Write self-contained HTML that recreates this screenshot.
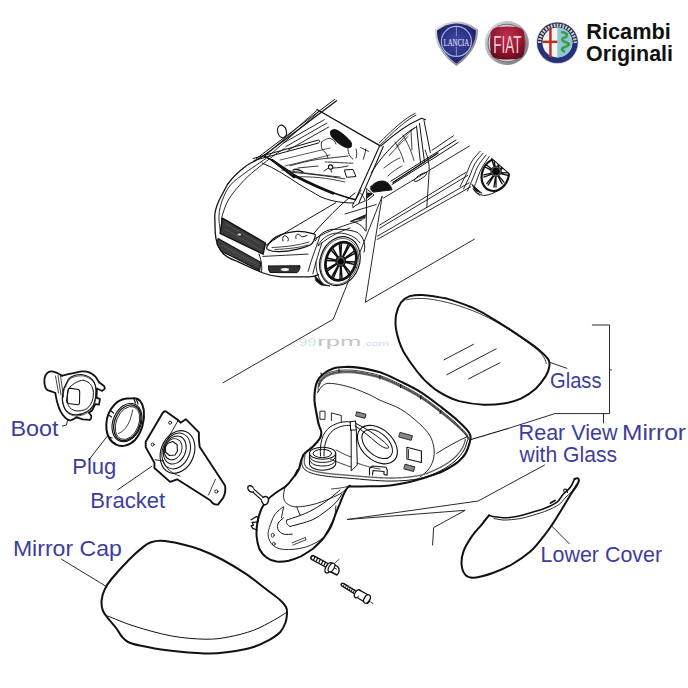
<!DOCTYPE html>
<html><head><meta charset="utf-8">
<style>
html,body{margin:0;padding:0;background:#fff;width:688px;height:688px;overflow:hidden}
svg{position:absolute;left:0;top:0}
.lbl{font-family:"Liberation Sans",sans-serif;fill:#3d3d9c;font-size:22.5px}
.k{fill:none;stroke:#111;stroke-linecap:round;stroke-linejoin:round}
</style></head><body>
<svg width="688" height="688" viewBox="0 0 688 688">
<!-- logos -->
<g id="logos">
  <defs>
    <radialGradient id="lblue" cx="50%" cy="45%" r="60%"><stop offset="0" stop-color="#4248a8"/><stop offset="0.7" stop-color="#262c7a"/><stop offset="1" stop-color="#161a55"/></radialGradient>
    <radialGradient id="fred" cx="50%" cy="30%" r="70%"><stop offset="0" stop-color="#c03050"/><stop offset="0.6" stop-color="#951830"/><stop offset="1" stop-color="#6a0c1e"/></radialGradient>
    <linearGradient id="silver" x1="0" y1="0" x2="1" y2="1"><stop offset="0" stop-color="#e6e6ea"/><stop offset="0.5" stop-color="#a8a8b0"/><stop offset="1" stop-color="#70707a"/></linearGradient>
  </defs>
  <path d="M434.8,29.5 Q456.4,13.5 478,29.5 L477.8,34 Q476,52 456.4,66 Q436.8,52 435,34 Z" fill="url(#silver)"/>
  <path d="M437,30.4 Q456.4,16.5 475.8,30.4 L475.6,34.5 Q474,50.5 456.4,63.4 Q438.8,50.5 437.2,34.5 Z" fill="url(#lblue)"/>
  <circle cx="456.4" cy="41.4" r="15" fill="none" stroke="#aeb4e0" stroke-width="1.1"/>
  <path d="M456.4,26.5 L456.4,36 M456.4,47 L456.4,56.5" stroke="#aeb4e0" stroke-width="0.7"/>
  <text x="0" y="0" font-family="Liberation Serif" font-size="11" fill="#e8e8f6" text-anchor="middle" transform="translate(456.4,46.2) scale(0.62,0.95)">LANCIA</text>
  <circle cx="506.8" cy="43" r="22" fill="url(#silver)"/>
  <circle cx="506.8" cy="43" r="19.3" fill="#6e6e76"/>
  <circle cx="506.8" cy="43" r="18.3" fill="#d0d0d6"/>
  <path d="M490.6,36 Q490,27.5 499,27 Q507.5,26 516,27 Q524.8,27.5 524.4,36 Q525.5,43 524.4,50 Q524.8,58.5 516,59 Q507.5,60 499,59 Q490,58.5 490.6,50 Q489.5,43 490.6,36 Z" fill="url(#fred)"/>
  <text x="0" y="0" font-family="Liberation Sans" font-size="24" fill="#f2cdd6" text-anchor="middle" transform="translate(507.4,52.6) scale(0.56,0.98)">FIAT</text>
  <circle cx="557.4" cy="42.8" r="21" fill="#bfc0c8"/>
  <circle cx="557.4" cy="42.8" r="20.3" fill="#27317a"/>
  <path d="M537.5,42.8 A19.9,19.9 0 0 1 577.3,42.8 Z" fill="#22263e"/>
  <path d="M539.6,43 A17.8,17.8 0 0 1 575.2,43" fill="none" stroke="#ececf0" stroke-width="3.4" stroke-dasharray="1.8 1.2" opacity="0.85"/>
  <circle cx="557.4" cy="42.5" r="15" fill="#f6f3ef"/>
  <path d="M557.3,27.5 A15,15 0 0 1 557.3,57.5 Z" fill="#8cc8d8"/>
  <rect x="549.2" y="27.8" width="2.5" height="29.4" fill="#b8302c"/>
  <rect x="542.5" y="40.6" width="14.8" height="2.5" fill="#b8302c"/>
  <path d="M561,32 q8,1 5,5 q-7,2 -1,5 q8,2 0,5 q-6,2 0,5" fill="none" stroke="#3d9c44" stroke-width="2.6"/>
</g>
<text x="586.3" y="38.8" font-family="Liberation Sans" font-weight="bold" font-size="22" fill="#111" textLength="84.5" lengthAdjust="spacingAndGlyphs">Ricambi</text>
<text x="586" y="60.8" font-family="Liberation Sans" font-weight="bold" font-size="22" fill="#111" textLength="87" lengthAdjust="spacingAndGlyphs">Originali</text>

<!-- labels -->
<text class="lbl" x="10.4" y="435.9" textLength="48.1" lengthAdjust="spacingAndGlyphs">Boot</text>
<text class="lbl" x="72.2" y="474.3" textLength="44.2" lengthAdjust="spacingAndGlyphs">Plug</text>
<text class="lbl" x="90.3" y="507.7" textLength="74.9" lengthAdjust="spacingAndGlyphs">Bracket</text>
<text class="lbl" x="12.9" y="555.9" textLength="109.0" lengthAdjust="spacingAndGlyphs">Mirror Cap</text>
<text class="lbl" x="540.6" y="561.7" textLength="121.5" lengthAdjust="spacingAndGlyphs">Lower Cover</text>
<text class="lbl" x="550.0" y="387.9" textLength="51.5" lengthAdjust="spacingAndGlyphs">Glass</text>
<text class="lbl" x="518.6" y="439.6" textLength="99" lengthAdjust="spacingAndGlyphs">Rear View</text><text class="lbl" x="622" y="439.6" textLength="64" lengthAdjust="spacingAndGlyphs">Mirror</text>
<text class="lbl" x="519.6" y="461.8" textLength="97.6" lengthAdjust="spacingAndGlyphs">with Glass</text>

<!-- watermark -->
<text x="298.8" y="345.8" font-family="Liberation Sans" font-size="11" fill="#cfe2ee" textLength="17.6" lengthAdjust="spacingAndGlyphs">99</text>
<text x="317.2" y="345.8" font-family="Liberation Sans" font-size="13" fill="#c4c4c4" textLength="44" lengthAdjust="spacingAndGlyphs">rpm</text>
<text x="362" y="345.8" font-family="Liberation Sans" font-size="8" fill="#c3dcee" textLength="27" lengthAdjust="spacingAndGlyphs">.com</text>

<g id="car" class="k" stroke-width="1">
  <!-- roof rail top-left -->
  <path d="M334.5,99.5 L256.5,158.5" stroke-width="1"/>
  <!-- windshield frame -->
  <path d="M317,109.5 L379.8,145.6" stroke-width="1.3"/>
  <path d="M317,110.3 L264.7,156 M319,111.5 L267,157.5" stroke-width="0.9"/>
  <path d="M379.8,145.6 L355.4,199.7 M383.3,146.5 L358.8,203.1" stroke-width="1.1"/>
  <!-- A pillar left / hood left edge outer, double -->
  <path d="M336.5,100.8 L266,154 C258,160 250,163 245.7,166.2 C238,172 232,178 227.4,184.5 C222,195 219,200 218.1,202.7 C215,210 214.5,214 214.8,218 L215.2,232 C215.5,240 217,246 222.4,252.8 C227,258 231,259 237.7,261.6 L261.7,272.5 C268,275 274,276.5 281.3,276.8 L309.6,276.8 C314,276.5 316,276 318.4,274.6" stroke-width="1.3"/>
  <path d="M266.0,158.5 C264.9,159.2 263.2,160.4 259.7,162.8 C256.2,165.2 249.8,169.3 245.0,173.0 C240.2,176.7 234.4,180.4 230.6,184.9 C226.8,189.4 224.3,195.0 222.4,200.0 C220.5,205.0 219.4,210.1 219.0,215.1 C218.6,220.1 219.9,227.5 220.1,230.0" stroke-width="0.9"/>
  <!-- cowl / wiper area -->
  <path d="M264,156 C270,159 285,168 296.6,176.4 C308,183 318,188 327.1,190.6 C335,193.5 343,196.5 355.4,199.7" stroke-width="1.4"/>
  <path d="M262,163 C275,168 288,177 299,184.2 C307,189 314,193 320,196.5 C328,200 338,203 354,203" stroke-width="1"/>
  <path d="M272,160 C280,166 287,172 294,177" stroke-width="2.4"/>
  <path d="M294,175.5 C307,182 320,188 333.2,193.3" stroke-width="2.6"/>
  <path d="M282,170 C300,172 318,175 340,177 M294,177 C310,176 328,178 345,182" stroke-width="0.8"/>
  <!-- streaks (reflection) -->
  <path d="M283.6,143 L324.3,119.7 M286,146.5 L327,123 M288,150.2 L328.7,127" stroke-width="0.9"/>
  <path d="M253.1,158.5 L318.5,140 C320,140.5 320,142 318.5,143 L254,160.5" stroke-width="1"/>
  <path d="M280,160 L330,148 M285,166 L330,155" stroke-width="0.7"/>
  <!-- side mirror oval (left) -->
  <ellipse cx="282" cy="131.4" rx="4.4" ry="6.4" transform="rotate(-15 282 131.4)" stroke-width="1.1"/>
  <!-- interior mirror blob -->
  <path d="M331,131 C334,128 338,130 344,135 C350,140 353,143 351,147 C348,149 343,147 337,142 C332,138 329,134 331,131Z" fill="#111"/>
  <!-- interior seats -->
  <path d="M321.4,142.2 C321,146 321.5,149 322.7,150.1 C324.5,152 326,153 326.6,154 L327.9,157.9 M321.4,142.2 C324,140 327,138.5 329.2,138.3 C333,139 335,141 336,144 M347.6,146.2 C348,150 348.3,152 348.9,154 C350,156.5 351.5,158 352.8,159.2 M360.6,147.5 L368.5,151.4 M365.9,148.8 C365.5,152 364.5,156 363.3,159.2 M356,149 C357,152 357,155 356,158 M290,165.8 C300,163 310,160.5 318.8,159.2 C330,158 340,157 348,156 M292.6,172.3 C310,174 328,176 344.9,178.9 M298,168 L318,166" stroke-width="0.85"/>
  <path d="M325.3,161.9 L352.8,163.2" stroke-width="1.2" stroke="#555" stroke-dasharray="2 1"/>
  <circle cx="330.6" cy="167.1" r="2.2" stroke-width="1.1"/>
  <path d="M330.8,169.3 L331.5,172 M324,171 L328.5,168 M333,168 C338,168 343,167 348,166" stroke-width="0.9"/>
  <path d="M344.7,170 L353,169.4 L355.9,176.5 L347,177.3Z" stroke-width="1"/>
  <path d="M293,170 C297,168 300,170 303,172" stroke-width="1.2"/>
  <!-- hood -->
  <path d="M335.8,202.7 C310,218 285,232 266,245.2" />
  <path d="M355,192.9 C340,205 325,220 314,233.2" />
  <path d="M285.0,148.5 C283.3,149.5 280.6,150.6 275.0,154.7 C269.4,158.8 257.4,168.3 251.5,173.3 C245.7,178.3 243.8,180.5 239.9,184.9 C236.0,189.3 231.2,195.0 228.3,200.0 C225.4,205.0 223.5,211.6 222.4,215.1 C221.3,218.6 221.7,220.0 221.5,221.0" stroke-width="0.9"/>
  
  <!-- grille -->
  <path d="M222.4,218.1 L265.5,243.1 L263.1,254.2 L220.1,233.3Z" fill="#3a3a3a" stroke-width="1.4"/><path d="M226,224 L262,245 M225,229 L261,250" stroke="#777" stroke-width="0.5" stroke-dasharray="1 1.2"/>
  <path d="M218,238.5 L260.8,262.3 L259.7,270.5 L221,251 L217,244Z" fill="#3e3e3e" stroke-width="1.1"/><path d="M222,245 L258,265" stroke="#777" stroke-width="0.5" stroke-dasharray="1 1.2"/>
  <ellipse cx="239.5" cy="234.5" rx="2.6" ry="1.6" fill="#ccc" stroke-width="0.7"/>
  <!-- headlight -->
  <path d="M267.4,245.9 C268.8,243.7 271.8,239.0 276.7,236.6 C281.6,234.2 290.5,231.9 296.5,231.4 C302.5,230.9 309.7,232.8 312.8,233.7 C315.9,234.6 315.5,234.8 315.1,236.6 C314.7,238.4 313.6,242.7 310.5,244.8 C307.4,246.9 301.7,248.2 296.5,249.4 C291.3,250.6 283.8,251.6 279.1,251.7 C274.5,251.8 270.6,251.0 268.6,250.0 C266.7,249.0 266.0,248.1 267.4,245.9Z" stroke-width="1.2"/>
  <path d="M272,247.5 C285,247 298,245.5 309,242 M275,249.5 C288,249 300,247.5 308,245" stroke-width="0.8"/>
  <path d="M283,241 c-1,-4 1,-6 3,-5 c2,1 3,3 2,5 M296,238.5 c-1,-3 1,-5 3,-4 c2,1 2,3 5,2 l3,-1" stroke-width="1"/>
  <!-- bumper lines -->
  <path d="M259,254 C262,262 262,268 261.5,272" />
  <path d="M319.8,236.6 C316,248 311,260 308.1,271.5 M322,242.4 C319,252 315.5,263 312.8,273.8" stroke-width="0.9"/>
  <path d="M318,246 C325,240 335,233 350,228 M314,239 C330,230 345,225 362,220" stroke-width="0.9"/>
  <!-- foglight -->
  <path d="M268.6,266 L300,265.7 C300.5,268 299,271 297,272.7 L270,272.5 C268.5,270.5 268,268 268.6,266Z" fill="#333" stroke-width="1"/>
  <ellipse cx="285" cy="269.5" rx="4.5" ry="1.8" fill="#fff" stroke-width="0.5"/>
  <path d="M262.8,256.4 C278,255.5 293,255 308.1,254.1" stroke-width="0.9"/>
  <!-- front wheel arch -->
  <path d="M315.1,240.9 C320,233 328,229 334.9,229.3 C345,229 355,231 358.1,232.8 C364,238 366,245 364,252" stroke-width="1"/>
  <path d="M318,245 C323,237 330,233 338,233 C348,233 356,237 360,243" stroke-width="0.9"/>
  <path d="M316,262 C316,270 317,276 322,283" stroke-width="0.9"/>
  <!-- front wheel -->
  <ellipse cx="339.9" cy="261.2" rx="19.6" ry="25" transform="rotate(20 339.9 261.2)" stroke-width="1.2"/>
  <ellipse cx="339.6" cy="261.5" rx="18.2" ry="23.6" transform="rotate(20 339.6 261.5)" stroke-width="0.6"/>
  <ellipse cx="340.9" cy="261.2" rx="14.8" ry="19.6" transform="rotate(20 340.9 261.2)" stroke-width="2.8"/>
  <path d="M345.0,262.2 L354.4,264.4 M343.7,264.8 L350.3,272.5 M343.3,265.3 L348.8,274.3 M341.1,266.7 L342.0,278.7 M340.5,266.9 L340.0,279.2 M338.3,266.6 L333.2,278.2 M337.8,266.2 L331.6,277.2 M336.4,264.4 L327.2,271.2 M336.2,263.7 L326.6,269.1 M336.2,260.9 L326.4,260.4 M336.4,260.2 L327.0,258.0 M337.7,257.6 L331.1,249.9 M338.1,257.1 L332.6,248.1 M340.3,255.7 L339.4,243.7 M340.9,255.5 L341.4,243.2 M343.1,255.8 L348.2,244.2 M343.6,256.2 L349.8,245.2 M345.0,258.0 L354.2,251.2 M345.2,258.7 L354.8,253.3 M345.2,261.5 L355.0,262.0" stroke-width="1.5"/>
  <ellipse cx="340.7" cy="261.2" rx="4.8" ry="5.2" fill="#555" stroke-width="1.2"/>
  <circle cx="340.7" cy="261.5" r="2.8" fill="#000"/>
  <path d="M315,276 L324,284.4 L330,286 L321,285 L316,281Z" fill="#111" stroke-width="0.8"/>
  <!-- car side mirror -->
  <path d="M371.2,186.3 C375,182 380,180.5 384,181.2 C388,182 391,186 392.1,189.8 L373.5,192.1 C371,191 370,189 371.2,186.3Z" fill="#111"/>
  <path d="M366.8,188.5 L366.1,231 M368,190 L374,195 L368,200" />
  <path d="M368,193 L372,194 L367,198Z" fill="#111"/>
  <path d="M350.8,221.3 L366.1,214.7 M350.8,221.3 C357,222 362.5,225.5 365.3,230.7" stroke-width="1"/><path d="M353.5,220.3 L365.5,215.6 L364.8,218.2Z" fill="#222" stroke-width="0.6"/>
  <path d="M353,207.4 C357,204 362,202 365.3,200.9 C364,197 362,195 360.5,193 M353,207.4 C352,205 353,203 355,201 L361,190" stroke-width="0.9"/><path d="M345,214 L376.2,204.5" stroke-width="0.9"/>
  <!-- roof side arc / door frame -->
  <path d="M379.2,143 C392,130 405,118 415.2,113.4 M380.5,144.8 C393,132 406,120 416,115.2" stroke-width="0.9"/>
  <path d="M380.8,146.2 C393,135 408,124 421.6,118.2 L425.5,119.8" stroke-width="1.1"/>
  <path d="M416.5,126 L420.5,163 M419.5,123.5 L424.5,162 M424,120.6 L430.3,152.6" stroke-width="1"/>
  <path d="M371.3,172.8 C378,162 384,155 389.6,149.2 C397,141 406,133 414.5,127.7" stroke-width="1"/>
  <!-- belt line -->
  <path d="M390.8,181.2 L440.3,150 L456,140 M392,184.5 L441,153.5 L458,142.5" stroke-width="1"/>
  <path d="M393,182.5 L438,153" stroke-width="1.4" stroke-dasharray="1.2 1"/>
  <!-- door window hatch -->
  <path d="M396.8,146.2 C402,139 408,133 416,127 M389,155.8 C395,149 401,143 408,136.6 M403,135 C407,142 411,150 414,160.5 M395,142 C399,148 402,155 404,162 M411,130 L412,150 M384,168 C390,163 395,160 400,158 M388,176 C392,172 396,169 402,166" stroke-width="0.8"/>
  <!-- door handle front -->
  <path d="M414,180.4 C417,176 422,173 426.8,172.4 C427,175 423,178.5 416,181.5Z" stroke-width="1"/>
  <!-- body side lines front door -->
  <path d="M379.6,225.1 L465.9,172.4 M379.6,228.3 L467.5,175.6 M377.2,236.3 L469.1,182.8 M377.2,239.5 L470.7,186.8" stroke-width="0.9"/>
  <path d="M383.6,198 L469.4,146" stroke-width="0.9"/>
  <!-- rear door -->
  <path d="M425.2,150 C428,158 429.5,165 429.2,170.8 L426.8,207.6" stroke-width="0.9"/>
  <path d="M432,150.2 L453.5,135.8" stroke-width="0.9"/>
  <!-- rear wheel arch -->
  <path d="M480.2,151.3 C478.8,152.9 474.3,157.3 472.0,161.0 C469.7,164.7 468.5,169.3 466.5,173.6 C464.5,177.9 461.1,184.5 460.0,186.7" stroke-width="0.9"/>
  <path d="M483.0,153.3 C481.7,155.0 477.2,159.8 475.0,163.5 C472.8,167.2 471.7,171.6 469.8,175.8 C467.9,180.1 464.6,186.8 463.5,189.0" stroke-width="0.9"/>
  <path d="M486.0,155.0 C484.7,156.8 480.2,162.2 478.0,166.0 C475.8,169.8 474.8,173.8 473.0,178.0 C471.2,182.2 468.4,188.8 467.5,191.0" stroke-width="0.9"/>
  <path d="M489.2,156.6 C487.9,158.6 483.6,164.4 481.5,168.5 C479.4,172.6 477.8,177.4 476.5,181.0 C475.2,184.6 473.4,187.6 474.0,190.0 C474.6,192.4 479.0,194.6 480.0,195.5" stroke-width="0.9"/>
  <!-- rear wheel -->
  <defs><clipPath id="rwclip"><path d="M460,148.3 L480,148.3 L520,183.1 L520,205 L460,205Z"/></clipPath></defs>
  <g clip-path="url(#rwclip)">
    <ellipse cx="495.3" cy="174.8" rx="13.3" ry="16.5" transform="rotate(20 495.3 174.8)" stroke-width="2.2"/>
    <path d="M499.7,173.4 L507.6,175.3 M498.5,175.6 L503.9,182.2 M498.0,176.1 L502.2,183.9 M496.0,177.1 L496.0,187.0 M495.4,177.1 L494.0,187.2 M493.5,176.5 L488.1,185.1 M493.0,176.0 L486.7,183.6 M492.2,174.0 L483.9,177.2 M492.1,173.2 L483.7,174.8 M492.6,170.8 L485.3,167.2 M493.0,170.1 L486.5,165.0 M494.7,168.4 L491.8,159.6 M495.3,168.1 L493.8,158.6 M497.3,168.0 L500.2,158.1 M497.9,168.2 L502.1,158.8 M499.4,169.6 L506.6,163.3 M499.6,170.2 L507.5,165.4 M499.8,172.6 L508.1,172.8" stroke-width="1.3"/>
    <path d="M473.1,188.9 C477,193.5 481,195.6 485.1,195.4 C494,194.5 503,188 508.5,179" stroke-width="1"/>
  </g>
  <path d="M491.6,158.4 L509.1,173.6" stroke-width="1.1"/>
  <path d="M472,184.5 L481.8,193.2 L476,191Z" fill="#111" stroke-width="0.8"/>
  <circle cx="496" cy="171.4" r="5.2" fill="#666" stroke-width="0.9" stroke-dasharray="1 0.8"/>
  <circle cx="496" cy="171.4" r="3.4" fill="#000"/>
</g>

<g id="housing" class="k" stroke-width="1">
  <!-- outer -->
  <path d="M295.0,475.6 C295.7,474.5 298.1,471.2 299.1,468.7 C300.1,466.2 300.3,462.9 301.2,460.4 C302.1,457.9 302.7,455.8 304.7,453.5 C306.7,451.2 310.5,449.1 313.0,446.6 C315.5,444.1 318.5,440.7 319.9,438.3 C321.3,435.9 321.5,434.4 321.3,432.0 C321.1,429.6 319.4,427.3 318.6,424.0 C317.8,420.7 317.0,416.2 316.3,412.3 C315.6,408.4 314.7,404.6 314.5,400.7 C314.3,396.8 314.6,392.4 315.1,389.1 C315.6,385.8 316.0,383.4 317.4,380.9 C318.8,378.4 320.8,376.0 323.3,374.0 C325.8,372.0 329.1,369.9 332.6,368.7 C336.1,367.5 339.9,367.2 344.2,367.0 C348.4,366.8 352.1,366.7 358.1,367.6 C364.1,368.5 372.9,370.0 380.0,372.3 C387.1,374.6 393.8,378.2 400.7,381.6 C407.6,385.0 414.5,388.2 421.4,392.6 C428.3,397.0 436.1,403.2 442.1,407.8 C448.1,412.4 453.2,416.5 457.3,420.2 C461.4,423.9 464.8,427.4 467.0,429.9 C469.2,432.4 469.9,433.3 470.4,435.4 C470.9,437.5 470.6,439.3 469.8,442.3 C469.0,445.3 467.5,450.2 465.6,453.4 C463.7,456.6 461.6,458.9 458.5,461.5 C455.4,464.1 450.7,466.9 447.0,469.0 C443.3,471.1 441.8,471.9 436.4,473.8 C430.9,475.8 422.0,478.8 414.3,480.7 C406.6,482.6 397.4,484.6 390.0,485.5 C382.6,486.4 376.8,486.1 370.0,486.3 C363.2,486.5 352.5,486.5 349.0,486.5" stroke-width="2.1"/>
  <path d="M318.2,392.0 C318.2,390.7 318.0,386.2 318.5,384.0 C319.0,381.8 319.6,380.2 321.0,378.5 C322.4,376.8 324.7,374.8 327.0,373.5 C329.3,372.2 332.0,371.6 335.0,371.0 C338.0,370.4 341.2,370.0 345.0,370.0 C348.8,370.0 352.2,369.9 358.0,370.8 C363.8,371.7 372.9,373.3 380.0,375.6 C387.1,377.9 393.7,381.1 400.5,384.5 C407.3,387.9 414.2,391.5 421.0,395.8 C427.8,400.1 435.2,406.0 441.0,410.5 C446.8,415.0 451.9,419.3 456.0,423.0 C460.1,426.7 463.5,430.2 465.5,432.5 C467.5,434.8 467.6,436.2 468.0,437.0" stroke-width="0.8"/>
  <path d="M318.8,385.6 C319.2,384.7 319.9,381.9 321.3,380.1 C322.7,378.4 325.0,376.4 327.3,375.1 C329.6,373.9 332.3,373.2 335.3,372.6 C338.3,372.0 341.5,371.6 345.3,371.6 C349.1,371.6 352.5,371.5 358.3,372.4 C364.1,373.3 373.2,374.9 380.3,377.2 C387.4,379.5 394.0,382.7 400.8,386.1 C407.6,389.5 414.6,393.1 421.3,397.4 C428.1,401.7 435.5,407.6 441.3,412.1 C447.1,416.6 452.2,420.9 456.3,424.6 C460.4,428.3 463.8,431.8 465.8,434.1 C467.8,436.4 467.9,437.9 468.3,438.6" stroke-width="1.8" stroke="#555" stroke-dasharray="0.7 0.7"/>
  <path d="M318.9,386.8 C319.3,385.9 320.0,383.1 321.4,381.3 C322.8,379.6 325.1,377.6 327.4,376.3 C329.7,375.1 332.4,374.4 335.4,373.8 C338.4,373.2 341.6,372.8 345.4,372.8 C349.2,372.8 352.6,372.7 358.4,373.6 C364.2,374.5 373.3,376.1 380.4,378.4 C387.5,380.7 394.1,383.9 400.9,387.3 C407.7,390.7 414.6,394.3 421.4,398.6 C428.1,402.9 435.6,408.8 441.4,413.3 C447.2,417.8 452.3,422.1 456.4,425.8 C460.5,429.5 463.9,433.0 465.9,435.3 C467.9,437.6 468.0,439.1 468.4,439.8" stroke-width="0.6"/>
  <path d="M321,373 L321.5,375.5 M339,369.2 L339.2,372 M380,375.6 L380,378.8 M400.7,384.5 L400.5,387.5 M421,395.8 L420.5,399 M441,410.5 L440,413.5" stroke-width="1.2"/>
  <path d="M317.5,392.5 C318.6,391.1 321.5,385.8 324.4,384.4 C327.3,382.9 330.2,383.2 334.9,383.8 C339.5,384.4 346.5,386.0 352.3,387.9 C358.1,389.8 365.2,392.8 369.8,394.9 C374.4,396.9 374.9,397.8 380.0,400.2 C385.1,402.6 394.2,405.4 400.7,409.2 C407.1,413.0 413.9,418.6 418.7,423.0 C423.5,427.4 427.2,431.3 429.7,435.4 C432.2,439.5 433.3,443.7 433.9,447.8 C434.5,451.9 434.2,456.3 433.2,460.0 C432.2,463.7 430.2,467.2 428.0,470.0 C425.8,472.8 421.3,475.8 420.0,477.0" stroke-width="0.9"/>
  <path d="M302.6,454.9 C302.5,456.5 301.1,461.8 301.9,464.5 C302.7,467.2 303.9,469.5 307.4,471.4 C310.8,473.2 315.5,474.5 322.6,475.6 C329.7,476.8 339.0,477.4 350.2,478.3 C361.4,479.2 378.4,481.1 390.0,481.1 C401.6,481.1 411.7,480.2 420.0,478.5 C428.3,476.8 434.2,473.9 440.0,471.0 C445.8,468.1 451.0,464.5 455.0,461.0 C459.0,457.5 461.9,453.5 464.0,450.0 C466.1,446.5 466.9,441.7 467.5,440.0" stroke-width="1"/>
  <path d="M305.0,455.0 C304.9,456.4 303.8,461.2 304.5,463.5 C305.2,465.8 305.9,467.4 309.0,469.0 C312.1,470.6 316.1,471.7 323.0,472.8 C329.9,473.9 339.3,474.6 350.5,475.5 C361.7,476.4 378.6,478.0 390.0,478.0 C401.4,478.0 411.0,477.1 419.0,475.5 C427.0,473.9 432.3,471.2 438.0,468.5 C443.7,465.8 449.0,462.3 453.0,459.0 C457.0,455.7 459.9,451.8 462.0,448.5 C464.1,445.2 464.9,440.6 465.5,439.0" stroke-width="1.4" stroke="#666" stroke-dasharray="0.8 0.7"/>
  <path d="M436.6,453.4 C447,447 457,441 467,436.8" stroke-width="0.9"/>
  <!-- rects -->
  <rect x="320.3" y="411.2" width="4.7" height="8.1" stroke-width="0.9"/>
  <path d="M331.4,420.5 L331.4,412.9 L341.3,415.5 L341.3,422" stroke-width="0.9"/>
  <rect x="356.4" y="413" width="9.3" height="4.2" fill="#888" stroke-width="0.8" transform="rotate(15 361 415)"/>
  <rect x="399.5" y="434" width="12.5" height="4.8" fill="#888" stroke-width="0.8" transform="rotate(15 405.7 436.4)"/>
  <path d="M406.9,447.2 L421.4,451 L421.4,462.5 L406.9,459Z" stroke-width="1.1"/>
  <path d="M408.5,449.5 L408.5,458" stroke-width="0.8"/>
  <rect x="404.6" y="465.5" width="9.7" height="4.8" fill="#888" stroke-width="0.8" transform="rotate(15 409.5 468)"/>
  <!-- grommet coil -->
  <path d="M309.5,453.3 L309.5,464 C310,468 316,470.2 322.6,470.2 C329,470.2 335,468 335.7,464 L335.7,453.3" fill="#fff" stroke-width="1.1"/>
  <path d="M309.6,456.5 C310.5,460.5 316,462.4 322.6,462.4 C329.5,462.4 334.8,460.5 335.6,456.5 M309.6,460 C310.5,464 316,466 322.6,466 C329.5,466 334.8,464 335.6,460" stroke-width="1"/>
  <ellipse cx="322.6" cy="453.3" rx="13.1" ry="6" fill="#fff" stroke-width="1.1"/>
  <ellipse cx="322.4" cy="453.5" rx="9.3" ry="4.15" stroke-width="1"/>
  <!-- cable -->
  <path d="M320.5,456 C319.5,444 322,433 330,427 C337,422.5 344,421 350.5,422 M324,456 C323.8,445 326.5,435.5 333.5,430 C340,426 345,425 350.5,425.5" stroke-width="1"/>
  <path d="M350.2,421.7 L355.5,421 L356.3,429.8 L350.6,430.2Z" stroke-width="1.1"/>
  <!-- loop -->
  <ellipse cx="377.4" cy="444.6" rx="23" ry="15.5" transform="rotate(42 377.4 444.6)" stroke-width="1.1"/>
  <ellipse cx="377.2" cy="444" rx="18" ry="11" transform="rotate(42 377.2 444)" stroke-width="1"/>
  <path d="M356,423.5 C365,428 375,434 383,441 C387,444 389,447 388.5,448 C386,449 382,447 377,443 C370,437 362,430 355,426" stroke-width="1"/>
  <!-- post -->
  <path d="M351.2,430 L351.2,471 L357.3,464.9 L356.3,429.8" stroke-width="1"/>
  <path d="M336,450 C340,452 345,455 351,457 M330,459 C337,462 345,465 351,467" stroke-width="0.8"/>
  <path d="M357,463 C362,465 372,468 380,469" stroke-width="0.8"/>
  <!-- clip bottom -->
  <path d="M369.5,475 L369.5,468.5 L372.5,466 L386,467.3 L387.3,470 L387,475.1 L384,474.5 L384,471.5 L373,470.5 L372.5,475" stroke-width="1.1"/>
  <line x1="471" y1="439.5" x2="508" y2="428.5" stroke-width="1.1"/>
</g>
<g id="base" class="k" stroke-width="1">
  <path d="M297.6,470 C296,474 294,477 292.3,478.7 C290,482 288,484.5 285.4,486.6 C282,489 278,491 274.9,493.5 C271,496 268.5,498.5 266.2,501.4 C264,504.5 262,507 260.9,510.1 C259,515 258,518 257.4,522.3 C256.5,528 256.3,532 256.6,536.3 C257,541 258,545 259.2,548.5 C261,552 263,555 266.2,557.2 C269,559.5 273,561 276.6,561.6 C281,562 285,561.5 288.8,560.7 C293,559.5 297,558 301,556.3 C305,554 309,551.5 313.3,548.5 C317,545 320.5,541.5 323.7,538 C327,533 330,528 332.4,522.3 C335,516 337,510 339.4,504.9 C341.5,499 344,493 346.4,489.2 C347.5,487.5 348.5,486.5 349.9,485.7" stroke-width="2"/>
  <path d="M284.7,488.3 C284.5,489.8 283.2,494.6 283.6,497.1 C284.0,499.7 284.7,502.0 286.9,503.6 C289.1,505.2 291.8,506.9 296.7,506.9 C301.6,506.9 309.4,505.6 316.3,503.6 C323.2,501.6 333.0,497.4 338.1,494.9 C343.2,492.3 345.4,489.4 346.8,488.3" stroke-width="0.9"/>
  <path d="M331.6,489.0 C333.0,488.8 337.3,488.4 340.0,488.0 C342.7,487.6 346.7,486.8 348.0,486.5" stroke-width="0.8"/>
  <path d="M286.9,520.0 C290.0,518.9 299.9,515.8 305.4,513.4 C310.9,511.0 315.6,508.2 320.0,505.5 C324.4,502.8 328.3,499.7 331.6,497.1 C334.9,494.5 338.6,491.2 340.0,490.0" stroke-width="1"/>
  <path d="M290.1,526.5 C293.7,525.4 305.9,522.6 311.9,520.0 C317.9,517.4 322.0,513.9 326.0,511.0 C330.0,508.1 333.2,505.3 335.9,502.5 C338.6,499.7 341.0,495.4 342.0,494.0" stroke-width="1"/>
  <path d="M286.9,520 C285.5,522 287,525.5 290.1,526.5" stroke-width="1"/>
  <path d="M283.6,517.8 C282.7,518.7 279.1,521.2 278.2,523.2 C277.3,525.2 277.3,528.0 278.2,529.8 C279.1,531.6 281.2,533.4 283.6,534.1 C286.0,534.8 290.9,534.1 292.3,534.1" stroke-width="1"/>
  <path d="M335.9,505.8 C335.5,508.3 335.5,515.9 333.7,521.0 C331.9,526.1 329.7,531.9 325.0,536.3 C320.3,540.7 312.3,545.0 305.4,547.2 C298.5,549.4 289.1,549.8 283.6,549.4 C278.2,549.0 275.2,547.2 272.7,545.0 C270.1,542.8 268.9,539.2 268.3,536.3 C267.8,533.4 268.3,531.2 269.4,527.6 C270.5,524.0 272.6,517.9 274.9,514.5 C277.2,511.1 281.6,508.2 283.0,507.0" stroke-width="0.9"/>
  <path d="M283.6,506.9 L281.4,517.8 M296.7,506.9 L300,515" stroke-width="0.9"/>
  <ellipse cx="272.7" cy="535.2" rx="1.5" ry="2" stroke-width="0.8"/>
  <ellipse cx="273.8" cy="543.9" rx="1.3" ry="1.6" stroke-width="0.8"/>
  <path d="M292.3,542.8 L305.4,537.4 L306,539.8 L293,545" stroke-width="0.8"/>
  <!-- connector pin -->
  <path d="M251.5,489 L264.5,500.5" stroke-width="4.2"/>
  <path d="M252,489.4 L264.5,500.5" stroke-width="1.8" stroke="#fff"/>
  <path d="M253,487.2 C250,484.5 247,486 248,489 C249,491.5 251,492.5 253.5,492" stroke-width="1.3" fill="#fff"/>
  <path d="M263,497.5 C266,495.5 269,497 268.5,500.5 C268,503.5 266,505.5 263.5,504.5 L261.5,501" stroke-width="1.5" fill="#fff"/>
  <path d="M251.1,519.7 L256.5,516.5 L258.5,518 L258,522 L252,522.3 L253.5,525 L251.1,525.8 L252.8,528.4 L257,530" stroke-width="1.3"/>
</g>
<g id="screws" class="k" stroke-width="1">
  <path d="M313,557.8 L327.5,565.6" stroke-width="5.6" stroke="#111"/>
  <path d="M313.3,558 L327.5,565.6" stroke-width="3" stroke="#fff"/>
  <path d="M315,556.5 L313.8,559.6 M317.6,558 L316.4,561 M320.2,559.4 L319,562.4 M322.8,560.8 L321.6,563.8 M325.4,562.2 L324.2,565.2" stroke-width="1.2"/>
  <ellipse cx="328.8" cy="567.8" rx="3" ry="5.6" transform="rotate(30 328.8 567.8)" stroke-width="1.4" fill="#fff"/>
  <path d="M331.5,563 L337.5,566.5 C340,568.5 339.5,573 337,575 L331,572" stroke-width="1.4" fill="#fff"/>
  <ellipse cx="331.5" cy="567.5" rx="2.6" ry="4.8" transform="rotate(30 331.5 567.5)" stroke-width="1.2" fill="#fff"/>
  <path d="M334.5,568 L336.5,569" stroke-width="0.9"/>
  <path d="M335.5,562.5 L339,559.5" stroke-width="0.8"/>
  <path d="M342.5,584.6 L355.5,592.6" stroke-width="4.2" stroke="#111"/>
  <path d="M342.8,584.8 L355.5,592.6" stroke-width="1.8" stroke="#fff"/>
  <path d="M344.5,583.6 L343.5,586.2 M346.5,584.8 L345.5,587.4 M348.5,586 L347.5,588.6 M350.5,587.2 L349.5,589.8 M352.5,588.4 L351.5,591 M354.5,589.6 L353.5,592.2" stroke-width="1"/>
  <ellipse cx="357.5" cy="593.8" rx="2.6" ry="4.4" transform="rotate(30 357.5 593.8)" stroke-width="1.3" fill="#fff"/>
  <path d="M359,589.8 L367.5,594.5 C370.5,596.5 370.5,601.5 367.5,603.5 L358.5,598.5" stroke-width="1.4" fill="#fff"/>
  <ellipse cx="367" cy="599" rx="2.8" ry="4.6" transform="rotate(30 367 599)" stroke-width="1.3" fill="#fff"/>
  <path d="M370.6,601.9 L373,603.4" stroke-width="0.8"/>
</g>
<g id="boot" class="k" stroke-width="1">
  <path d="M61.9,375.7 C61.0,375.2 58.1,373.3 56.3,372.6 C54.5,371.9 52.7,371.2 51.2,371.3 C49.7,371.4 48.2,372.0 47.1,373.1 C46.0,374.2 45.0,376.3 44.6,378.2 C44.2,380.1 44.3,382.4 44.6,384.3 C44.9,386.2 45.5,388.2 46.6,389.4 C47.7,390.6 49.8,390.8 51.2,391.4 C52.7,392.0 54.6,392.7 55.3,393.0" stroke-width="1.8"/>
  <path d="M61.9,375.7 C62.6,375.5 64.5,375.1 66.4,374.7 C68.4,374.3 70.9,373.7 73.6,373.1 C76.3,372.5 80.0,371.4 82.7,371.3 C85.4,371.2 87.7,371.7 89.8,372.6 C91.9,373.5 93.9,375.1 95.4,376.7 C96.9,378.3 98.4,381.4 99.0,382.3" stroke-width="1.8"/>
  <path d="M76.6,417.4 C75.6,417.9 72.4,420.3 70.5,420.4 C68.6,420.5 67.1,419.5 65.4,417.9 C63.7,416.3 61.6,413.4 60.3,410.8 C58.9,408.2 58.1,405.6 57.3,402.6 C56.5,399.6 55.6,394.6 55.3,393.0" stroke-width="1.8"/>
  <path d="M99,382.3 L103.1,385.3 C104.8,386.5 105.2,388.5 104.6,388.9 L102.1,390.9 L97,388.4 L96.5,397.6 L100,399.1 L99,404.7 L95.4,404.2 L91.9,410.8 L88.8,412.8 L91.4,415.9 C91.5,418 90.5,419.5 89.8,419.9 L82.7,419.4 L76.6,417.4" stroke-width="1.7"/>
  <path d="M65.4,385.3 C66.6,383.1 67.6,379.0 70.5,377.2 C73.4,375.4 79.0,374.2 82.7,374.7 C86.4,375.2 90.7,377.7 92.9,380.3 C95.1,382.9 95.8,386.5 96.0,390.4 C96.2,394.3 95.4,400.1 93.9,403.7 C92.4,407.3 89.8,409.9 86.8,411.8 C83.8,413.7 79.0,415.0 75.6,414.8 C72.2,414.6 68.6,413.2 66.4,410.8 C64.2,408.4 62.9,404.0 62.4,400.6 C61.9,397.2 62.9,392.9 63.4,390.4 C63.9,387.8 64.2,387.5 65.4,385.3Z" stroke-width="1.1"/>
  <path d="M65.7,386.5 C66.9,384.3 67.9,380.2 70.8,378.4 C73.7,376.6 79.3,375.4 83.0,375.9 C86.7,376.4 91.0,378.9 93.2,381.5 C95.4,384.1 96.1,387.7 96.3,391.6 C96.5,395.5 95.7,401.3 94.2,404.9 C92.7,408.5 90.1,411.1 87.1,413.0 C84.0,414.9 79.3,416.2 75.9,416.0 C72.5,415.8 68.9,414.4 66.7,412.0 C64.5,409.6 63.2,405.2 62.7,401.8 C62.2,398.4 63.2,394.1 63.7,391.6 C64.2,389.0 64.5,388.7 65.7,386.5Z" stroke-width="0.7"/>
  <path d="M70.5,386.4 C73.0,383.9 79.1,380.3 82.7,380.3 C86.3,380.3 90.2,383.3 91.9,386.4 C93.6,389.4 93.8,394.9 92.9,398.6 C92.1,402.3 89.7,406.7 86.8,408.7 C83.9,410.7 78.6,411.3 75.6,410.8 C72.5,410.3 69.8,408.2 68.5,405.7 C67.2,403.1 67.2,398.7 67.5,395.5 C67.8,392.3 68.0,388.9 70.5,386.4Z" stroke-width="1"/>
  <path d="M68,390 C68,388.5 69.5,388.2 71,388.4 L78.5,389.5 C79.5,390 79.8,391 79.7,392 L79.5,403 C79.3,404.5 78.5,404.8 77.5,404.7 L68.5,403.5 C67,403 66.5,402 66.5,401Z" stroke-width="1.1"/>
  <path d="M55.5,376 L58.5,393 M58,375.5 L61,395 M60.5,375.5 L63.5,397" stroke-width="0.8"/>
  <path d="M67.5,420.5 L66.4,425 L62.4,426" stroke-width="0.9"/>
</g>
<g id="plug" class="k" stroke-width="1">
  <path d="M133,398.3 C139,397.5 142.5,402 143.8,410 C145,420 142,432 135,440 C129,446 121,447.5 116,444.5 C111,442 107.5,437 106.5,430 C105.8,423 107,415 111,409 C115,403 120.5,399 126.5,398.5 Z" stroke-width="2"/>
  <ellipse cx="127" cy="422.5" rx="14" ry="20" transform="rotate(22 127 422.5)" stroke-width="1.1"/>
  <ellipse cx="127.3" cy="422.8" rx="12.6" ry="18.6" transform="rotate(22 127.3 422.8)" stroke-width="1.3"/>
  <ellipse cx="127.5" cy="423" rx="11.2" ry="17.2" transform="rotate(22 127.5 423)" stroke-width="0.8"/>
  <path d="M132.6,410 C131,420 127,430 118.5,433.5" stroke-width="0.8"/>
  <path d="M110.5,410.5 L113.5,413 M108.5,415 L111.5,417 M134,399 L135.5,403 M136.5,399.5 L138,404 M108.5,437 L112,438" stroke-width="1.2"/>
</g>
<g id="bracket" class="k" stroke-width="1">
  <path d="M165.7,411.3 L177.9,420 L180.6,422.7 L185.8,419.2 L198.9,432.3 L198.9,440.1 L199.7,447.1 L225,485.4 C226,490 225,494 223.3,497.6 L218,504.6 C215,505 212,503 210.2,500.2 L177.1,479.3 L170.1,481.9 L154.4,468 L154.4,462.8 L145.7,447.1 L145.7,441.8 L163.1,412.2 C164,411.5 165,411 165.7,411.3Z" stroke-width="1.9"/>
  <circle cx="170.1" cy="422.7" r="1.5" stroke-width="0.9"/>
  <circle cx="152.7" cy="444.5" r="1.5" stroke-width="0.9"/>
  <circle cx="216.3" cy="491.5" r="1.6" stroke-width="0.9"/>
  <ellipse cx="177.5" cy="452" rx="16.5" ry="22" transform="rotate(22 177.5 452)" stroke-width="1.1"/>
  <ellipse cx="176.2" cy="451" rx="13.5" ry="18.5" transform="rotate(22 176.2 451)" stroke-width="1"/>
  <ellipse cx="174.8" cy="450" rx="10.8" ry="14.5" transform="rotate(22 174.8 450)" stroke-width="1"/>
  <ellipse cx="173.2" cy="449.2" rx="8.6" ry="10.8" transform="rotate(22 173.2 449.2)" stroke-width="0.9"/>
  <path d="M167.5,443.5 L172.5,441.5 L177,444.5 L177.5,451 L175,455 L169.5,455.5 L165.5,452 L165.5,447Z" stroke-width="1.1"/>
  <path d="M177.8,421.1 L168,438 M163.5,461 L155.1,459.8" stroke-width="0.9"/>
  <path d="M208.5,495 L215.4,479.3" stroke-width="0.8"/>
  <path d="M163,460 C165,468 172,474 180,476" stroke-width="0.8"/>
</g>

<!-- leader lines -->
<g class="k" stroke-width="1" style="stroke:#2a2a2a">
  <polyline points="592.3,325 609.5,325 609.5,413.6 555,413.6 508,428.5"/>
  <line x1="603.5" y1="413.6" x2="603.5" y2="423"/>
  <line x1="609.5" y1="369.5" x2="611.5" y2="370"/>
  <line x1="549.4" y1="362.2" x2="566.9" y2="368.3"/>
  <polyline points="544.5,465.1 478.2,501 347.1,519.5 465.2,510.3 433.6,527.6 432.6,545"/>
  <line x1="551.4" y1="525.7" x2="569.3" y2="543.7"/>
  <line x1="61.5" y1="559.2" x2="106.2" y2="586.4"/>
  <line x1="117.7" y1="489.8" x2="151.8" y2="466.3"/>
  <line x1="89" y1="459.7" x2="107.3" y2="436.2"/>
  
  <polyline points="382.1,196.5 333.3,319.2 223.1,382.7"/>
  <polyline points="382.1,196.5 365.3,302.2 474.4,239.2"/>
</g>

<!-- mirror cap -->
<path class="k" stroke-width="2" d="M143.6,546.6 C147.3,543.7 148.1,543.3 151.0,542.3 C153.9,541.3 156.2,540.6 161.0,540.8 C165.8,541.0 173.5,542.2 180.0,543.7 C186.5,545.2 193.0,546.9 200.0,549.5 C207.0,552.1 214.5,555.5 222.0,559.5 C229.5,563.5 238.0,568.6 245.2,573.4 C252.4,578.2 259.5,584.1 265.2,588.5 C270.9,592.9 276.0,596.4 279.5,599.5 C283.0,602.6 284.8,604.7 286.0,607.0 C287.2,609.3 287.1,610.9 287.0,613.5 C286.9,616.1 286.6,619.4 285.5,622.5 C284.4,625.6 283.1,629.0 280.3,632.0 C277.5,635.0 273.1,637.8 268.6,640.3 C264.1,642.8 260.2,645.0 253.5,647.0 C246.8,649.0 236.5,650.9 228.4,652.0 C220.3,653.1 215.2,653.8 205.0,653.5 C194.8,653.2 177.9,651.6 167.0,650.3 C156.1,649.0 146.3,646.9 139.8,645.5 C133.3,644.1 131.1,643.6 128.0,642.0 C124.9,640.4 123.3,638.2 121.4,636.0 C119.5,633.8 118.5,631.2 116.5,628.5 C114.5,625.8 111.7,622.9 109.4,620.0 C107.2,617.1 104.3,614.2 103.0,611.0 C101.7,607.8 101.3,604.1 101.6,600.5 C101.9,596.9 102.9,593.2 104.6,589.6 C106.2,586.0 107.4,584.0 111.5,579.0 C115.6,574.0 123.7,565.1 129.0,559.7 C134.3,554.3 139.9,549.5 143.6,546.6Z"/>
<path class="k" stroke-width="1" d="M107.8,616.0 C112.3,617.7 124.3,623.1 135.0,626.4 C145.7,629.7 160.0,633.9 171.7,636.0 C183.4,638.1 195.6,639.0 205.0,639.2 C214.4,639.4 220.3,638.5 228.4,637.0 C236.5,635.5 246.0,633.1 253.5,630.3 C261.0,627.5 268.2,623.2 273.6,620.3 C279.0,617.4 284.0,614.0 286.1,612.7"/>

<!-- glass -->
<path class="k" stroke-width="2" d="M409.7,296.1 C413.5,295 418,294.8 422.1,294.9 C430,295.5 438,296.8 446.8,298.6 C455,300.8 463,303.8 471.5,307.2 C480,311 488,315.5 496.2,320.8 C504,325.5 512,330.8 520.9,336.9 C527,341 533,345 538.2,349.2 C542,352.5 546,356 548.1,359.1 C549.5,361.5 549.8,364 549.3,366.5 C548.8,370 547.5,373.5 545.6,376.4 C542.5,381 539.5,385 535.7,388.8 C531,393 526,396 520.9,398.7 C515,401.2 509,402.8 503.6,403.6 C497,404.6 490,405 483.8,404.8 C475,404.3 467,403 459.1,401.1 C450,398.5 442,394 434.4,388.8 C428,384 422,378 417.1,371.5 C412,365 407.5,358.5 403.5,351.7 C400,345 397.5,337 396.1,329.5 C395.3,324.5 395.3,319.5 396.1,314.7 C397,310 398.8,305.8 401.1,302.3 C403.5,299.3 406.5,297.2 409.7,296.1Z"/>
<path class="k" stroke-width="0.8" d="M406.5,299.8 C412,298.4 420,298 428,298.8 C445,301 462,306 479.5,313.5 C499.5,322.5 519,335.5 535,348 C541,352.5 545,357.5 546.3,363.5"/>
<g class="k" stroke-width="0.9"><line x1="443.8" y1="359.9" x2="473.5" y2="344.3"/><line x1="446.8" y1="374.7" x2="496.2" y2="348.8"/><line x1="468.5" y1="378.9" x2="499.9" y2="362.8"/></g>

<!-- lower cover -->
<path class="k" stroke-width="2" d="M489.0,515.4 C487.8,517.0 484.3,521.3 481.5,524.8 C478.7,528.2 475.0,531.7 472.0,536.1 C469.0,540.5 465.2,546.6 463.5,551.3 C461.8,556.0 461.3,560.6 461.6,564.5 C461.9,568.4 463.3,572.7 465.4,574.9 C467.4,577.1 469.3,578.0 473.9,577.7 C478.5,577.4 486.5,575.2 492.8,573.0 C499.1,570.8 505.4,568.1 511.7,564.5 C518.0,560.9 525.2,556.0 530.6,551.3 C536.0,546.6 540.0,540.8 543.8,536.1 C547.6,531.4 550.1,527.6 553.3,522.9 C556.4,518.2 559.8,512.6 562.7,507.8 C565.7,503.0 568.7,497.6 571.0,494.0 C573.3,490.4 575.2,488.2 576.5,486.0 C577.8,483.8 578.6,482.3 578.8,481.0 C579.0,479.7 578.3,478.5 577.6,478.2 C576.9,477.9 575.0,478.9 574.5,479.0"/>
<path class="k" stroke-width="1.6" d="M574.5,479.0 C573.8,480.3 572.4,484.4 570.5,487.0 C568.6,489.6 565.2,492.0 563.0,494.5 C560.8,497.0 560.0,499.8 557.0,502.1 C554.0,504.4 548.8,506.6 545.0,508.2 C541.2,509.8 538.4,510.4 534.4,511.6 C530.4,512.8 524.8,514.5 521.0,515.5 C517.2,516.5 514.7,516.9 511.7,517.3 C508.7,517.7 505.9,517.8 503.0,517.7 C500.1,517.6 496.8,517.2 494.5,516.8 C492.2,516.4 489.9,515.6 489.0,515.4"/>
<path class="k" stroke-width="0.9" d="M576.5,484.0 C575.7,485.2 573.7,489.2 571.8,491.5 C569.9,493.8 567.1,495.8 565.0,498.0 C562.9,500.2 561.9,502.5 558.9,504.6 C555.9,506.7 550.8,509.0 547.0,510.6 C543.2,512.2 540.5,512.9 536.3,514.2 C532.1,515.5 526.1,517.3 522.0,518.2 C517.9,519.1 514.9,519.3 511.7,519.6 C508.5,519.9 505.9,520.2 503.0,520.0 C500.1,519.8 495.5,518.8 494.0,518.6"/>
<path class="k" stroke-width="1.1" d="M564,492 C563,489.5 564.5,488.5 566.5,489.5 L567.5,492.5"/>
<path class="k" stroke-width="1.8" d="M550.5,503 L555,500.5"/>
<path class="k" stroke-width="1" d="M483.5,521 l0.8,0.6 M475,532 l0.8,0.6"/>
</svg>
</body></html>
